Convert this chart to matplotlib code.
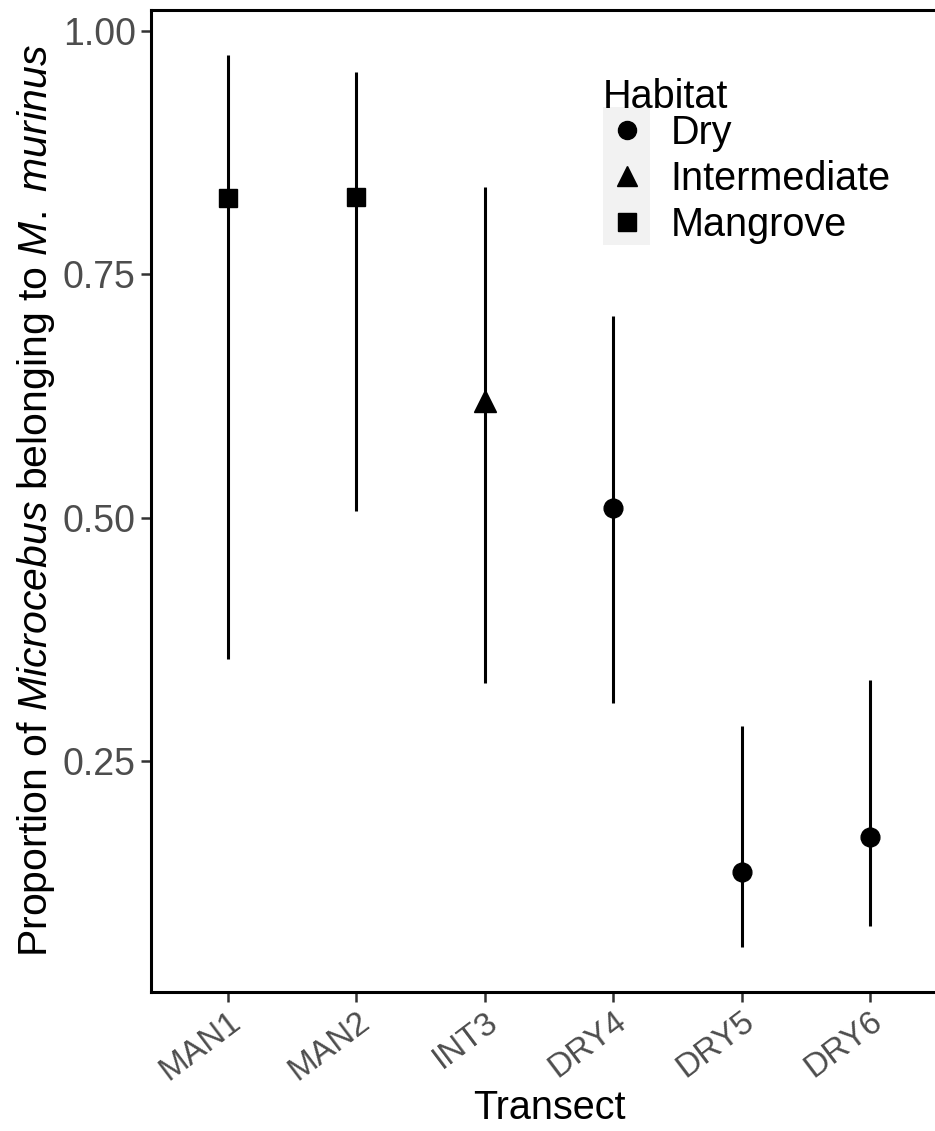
import matplotlib
matplotlib.use('Agg')
import matplotlib.pyplot as plt
import matplotlib.patches as mpatches
from matplotlib.lines import Line2D

plt.rcParams['font.family'] = ['Liberation Sans', 'DejaVu Sans']
plt.rcParams['mathtext.fontset'] = 'custom'
plt.rcParams['mathtext.rm'] = 'Liberation Sans'
plt.rcParams['mathtext.it'] = 'Liberation Sans:italic'

# data
transects = ['MAN1', 'MAN2', 'INT3', 'DRY4', 'DRY5', 'DRY6']
habitat   = ['Mangrove', 'Mangrove', 'Intermediate', 'Dry', 'Dry', 'Dry']
estimate  = [0.829, 0.830, 0.620, 0.510, 0.136, 0.172]
lower     = [0.355, 0.507, 0.330, 0.309, 0.058, 0.080]
upper     = [0.976, 0.958, 0.840, 0.707, 0.286, 0.333]

habitat_levels = ['Dry', 'Intermediate', 'Mangrove']
MARKERS = {'Dry': 'o', 'Intermediate': '^', 'Mangrove': 's'}
MSIZE   = {'Dry': 13.5, 'Intermediate': 15.5, 'Mangrove': 13.5}

FS = 27        # y tick labels
FS_X = 24      # rotated x tick labels
FS_T = 28.5    # titles / legend
TICK_COL = '#4D4D4D'

fig = plt.figure(figsize=(9.35, 11.31), dpi=100)
ax = fig.add_axes([151 / 935, 1 - 992 / 1131, (947 - 151) / 935, (992 - 10) / 1131])

xs = list(range(1, len(transects) + 1))
ax.vlines(xs, lower, upper, color='black', linewidth=2.2, zorder=2)
for x, y, h in zip(xs, estimate, habitat):
    ax.plot(x, y, marker=MARKERS[h], markersize=MSIZE[h], color='black',
            linestyle='none', zorder=3)

ax.set_xlim(0.4, 6.6)
lo, hi = min(lower), max(upper)
pad = (hi - lo) * 0.05
ax.set_ylim(lo - pad, hi + pad)

ax.set_xticks(xs)
ax.set_xticklabels(transects, rotation=37, ha='right', va='top',
                   rotation_mode='anchor')
ax.set_yticks([0.25, 0.50, 0.75, 1.00])
ax.set_yticklabels(['0.25', '0.50', '0.75', '1.00'])
ax.tick_params(axis='both', labelcolor=TICK_COL, color='#333333',
               length=7, width=1.8)
ax.tick_params(axis='y', labelsize=FS, pad=4)
ax.tick_params(axis='x', labelsize=FS_X, pad=3)

for side in ['left', 'bottom', 'top', 'right']:
    ax.spines[side].set_linewidth(2.2)
    ax.spines[side].set_color('black')

ax.set_xlabel('Transect', fontsize=FS_T, labelpad=2)
ax.set_ylabel(r'Proportion of $\mathit{Microcebus}$ belonging to $\mathit{M.\ murinus}$',
              fontsize=29.5, labelpad=4)

# legend: grey key background, title, entries
ax.add_patch(mpatches.Rectangle((603 / 935, 1 - 245 / 1131), 47 / 935, 138 / 1131,
                                transform=fig.transFigure, facecolor='#F2F2F2',
                                edgecolor='none', zorder=4, clip_on=False))
fig.text(603 / 935, 1 - 108 / 1131, 'Habitat', fontsize=FS_T, ha='left',
         va='baseline', color='black')
handles = [Line2D([], [], marker=MARKERS[h], markersize=13 if h != 'Intermediate' else 15,
                  color='black', linestyle='none', label=h) for h in habitat_levels]
leg = ax.legend(handles=handles, loc='upper left',
                bbox_to_anchor=(603 / 935, 1 - 114 / 1131), bbox_transform=fig.transFigure,
                frameon=False, fontsize=FS_T, handlelength=1.2, handletextpad=0.5,
                labelspacing=0.2, borderpad=0, borderaxespad=0)
leg.set_zorder(6)

fig.savefig('out.png', dpi=100, facecolor='white')
